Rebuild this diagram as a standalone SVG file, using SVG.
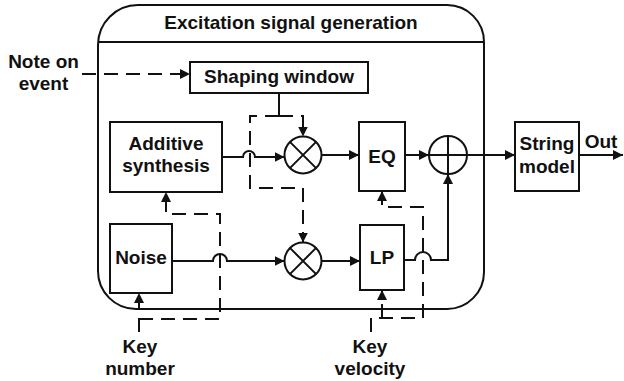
<svg xmlns="http://www.w3.org/2000/svg" width="624" height="381" viewBox="0 0 624 381">
<defs>
<marker id="ah" viewBox="0 0 10 10" refX="10" refY="5" markerWidth="10" markerHeight="10" markerUnits="userSpaceOnUse" orient="auto">
<path d="M0,0 L10,5 L0,10 Z" fill="#111"/>
</marker>
</defs>
<style>
.t{font-family:"Liberation Sans",Arial,sans-serif;font-weight:bold;font-size:19px;fill:#111;text-anchor:middle}
.b{fill:#fff;stroke:#111;stroke-width:2}
.s{fill:none;stroke:#111;stroke-width:2}
.d{fill:none;stroke:#111;stroke-width:2;stroke-dasharray:14 8}
</style>
<rect width="624" height="381" fill="#fff"/>
<g id="container">
<path class="s" d="M138,5 H447 A37,37 0 0 1 484,42 V272 A37,37 0 0 1 447,309 H136 A38,38 0 0 1 98,271 V45 A40,40 0 0 1 138,5 Z"/>
<line class="s" x1="98" y1="42" x2="484" y2="42"/>
<text class="t" x="291" y="29">Excitation signal generation</text>
</g>
<g id="note">
<text class="t" x="43.5" y="68">Note on</text>
<text class="t" x="43.5" y="90">event</text>
</g>
<g id="shaping">
<rect class="b" x="190" y="62" width="178" height="31"/>
<text class="t" x="279" y="83">Shaping window</text>
</g>
<g id="additive">
<rect class="b" x="110" y="122" width="112" height="70"/>
<text class="t" x="166" y="150">Additive</text>
<text class="t" x="166" y="172">synthesis</text>
</g>
<g id="noise">
<rect class="b" x="110" y="224" width="62" height="69"/>
<text class="t" x="141" y="264">Noise</text>
</g>
<g id="mult1">
<circle class="b" cx="303" cy="155" r="18.5"/>
<path class="s" d="M289.9,141.9 L316.1,168.1 M316.1,141.9 L289.9,168.1"/>
</g>
<g id="mult2">
<circle class="b" cx="303" cy="261" r="18.5"/>
<path class="s" d="M289.9,247.9 L316.1,274.1 M316.1,247.9 L289.9,274.1"/>
</g>
<g id="eq">
<rect class="b" x="359" y="122" width="46" height="69"/>
<text class="t" x="382" y="163">EQ</text>
</g>
<g id="lp">
<rect class="b" x="360" y="225" width="44" height="65"/>
<text class="t" x="382" y="264">LP</text>
</g>
<g id="sum">
<circle class="b" cx="448" cy="155" r="19"/>
<path class="s" d="M429,155 H467 M448,136 V174"/>
</g>
<g id="string">
<rect class="b" x="515" y="122" width="64" height="69"/>
<text class="t" x="547" y="150">String</text>
<text class="t" x="547" y="173">model</text>
</g>
<g id="out">
<text class="t" x="601" y="148">Out</text>
</g>
<g id="keynumber">
<text class="t" x="140" y="353">Key</text>
<text class="t" x="140" y="375">number</text>
</g>
<g id="keyvelocity">
<text class="t" x="370" y="353">Key</text>
<text class="t" x="370" y="375">velocity</text>
</g>
<g id="connectors">
<path class="d" d="M82,74 H190" marker-end="url(#ah)"/>
<path class="s" d="M279,93 V115"/>
<path class="d" d="M279,116 H303 V136.5" marker-end="url(#ah)"/>
<path class="d" d="M279,116 H250 V188 H303 V242.5" marker-end="url(#ah)"/>
<path class="s" d="M222,157 H243 A6,6 0 0 1 255,157 H284.5" marker-end="url(#ah)"/>
<path class="s" d="M172,261 H213 A7,7 0 0 1 227,261 H284.5" marker-end="url(#ah)"/>
<path class="s" d="M321.5,155 H359" marker-end="url(#ah)"/>
<path class="s" d="M321.5,261 H360" marker-end="url(#ah)"/>
<path class="s" d="M405,155 H429" marker-end="url(#ah)"/>
<path class="s" d="M404,260 H415 A8,8 0 0 1 431,260 H448 V174" marker-end="url(#ah)"/>
<path class="s" d="M467,155 H515" marker-end="url(#ah)"/>
<path class="s" d="M579,155 H623" marker-end="url(#ah)"/>
<path class="d" d="M139,332 V293" marker-end="url(#ah)"/>
<path class="d" d="M139,319 H220 V214 H166 V192" marker-end="url(#ah)"/>
<path class="d" d="M371,332 V318 H423 V207 H382 V191" marker-end="url(#ah)"/>
<path class="d" d="M382,318 V290" marker-end="url(#ah)"/>
</g>
</svg>
